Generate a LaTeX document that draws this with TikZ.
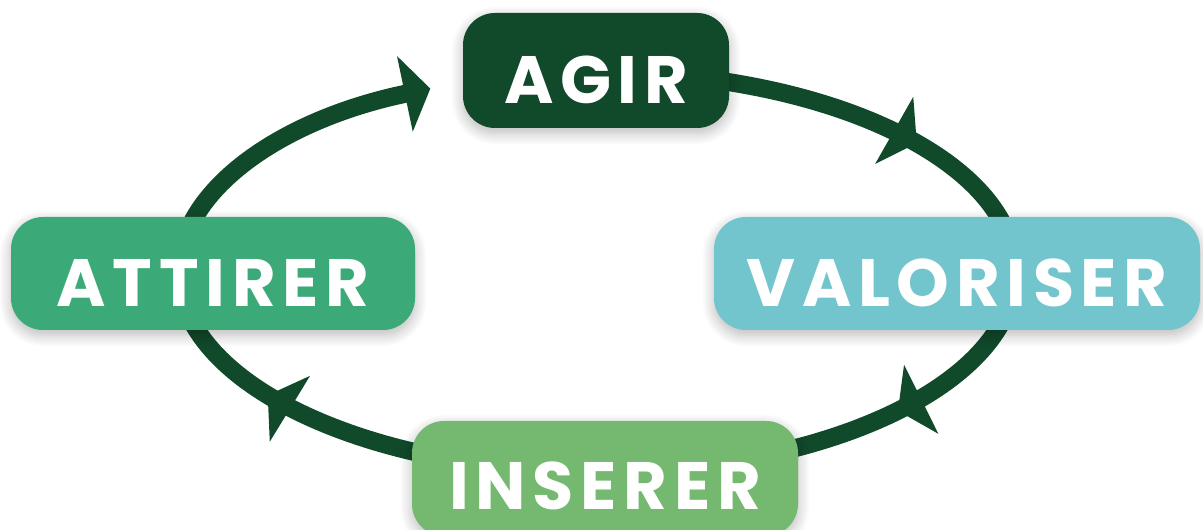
\documentclass[tikz,border=0pt]{standalone}
\usepackage{fontspec}
\setmainfont{Poppins}
\usetikzlibrary{arrows.meta,decorations.markings,shadows.blur,calc}
\pgfdeclarelayer{bg}
\pgfsetlayers{bg,main}
\definecolor{dkgreen}{HTML}{11492B}
\definecolor{midgreen}{HTML}{3BA978}
\definecolor{teal}{HTML}{73C5CD}
\definecolor{ltgreen}{HTML}{74B96F}
\tikzset{
  box/.style={rectangle, rounded corners=32pt, inner sep=0pt, text=white,
    text depth=0pt, text height=67pt,
    font=\fontsize{67}{67}\selectfont\bfseries\addfontfeatures{LetterSpace=10},
    blur shadow={shadow xshift=0pt, shadow yshift=-5pt, shadow blur radius=12pt, shadow opacity=28, shadow blur steps=12}},
  flow/.style={draw=dkgreen, line width=18pt},
  flowtip/.tip={Triangle[width=76pt,length=26pt]},
  midtip/.style={postaction={decorate}, decoration={markings, mark=at position #1 with {\arrow{flowtip}}}}
}
\begin{document}
\begin{tikzpicture}[x=1pt,y=1pt]
\useasboundingbox (0,0) rectangle (1203,530);
% nodes
\node[box, fill=dkgreen, minimum width=266pt, minimum height=115pt] (agir) at (596,459.5) {AGIR};
\node[box, fill=midgreen, minimum width=404pt, minimum height=113pt] (attirer) at (213,256.5) {ATTIRER};
\node[box, fill=teal, minimum width=486pt, minimum height=113pt] (valoriser) at (957,256.5) {VALORISER};
\node[box, fill=ltgreen, minimum width=386pt, minimum height=115pt, text height=62pt] (inserer) at (605,51.5) {INSERER};
% ellipse points
\coordinate (C) at (597,258);
\coordinate (eT) at ($(C)+(0,200)$);
\coordinate (eR) at ($(C)+(418,0)$);
\coordinate (eB) at ($(C)+(0,-200)$);
\coordinate (eL) at ($(C)+(-418,0)$);
\begin{pgfonlayer}{bg}
\draw[flow, midtip=331pt] (eT) arc[start angle=90, end angle=0, x radius=418, y radius=200];
\draw[flow, midtip=191pt] (eR) arc[start angle=0, end angle=-90, x radius=418, y radius=200];
\draw[flow, midtip=342pt] (eB) arc[start angle=-90, end angle=-180, x radius=418, y radius=200];
\draw[flow, -{flowtip}] (eL) arc[start angle=180, end angle=113.5, x radius=418, y radius=200];
\end{pgfonlayer}
\end{tikzpicture}
\end{document}
